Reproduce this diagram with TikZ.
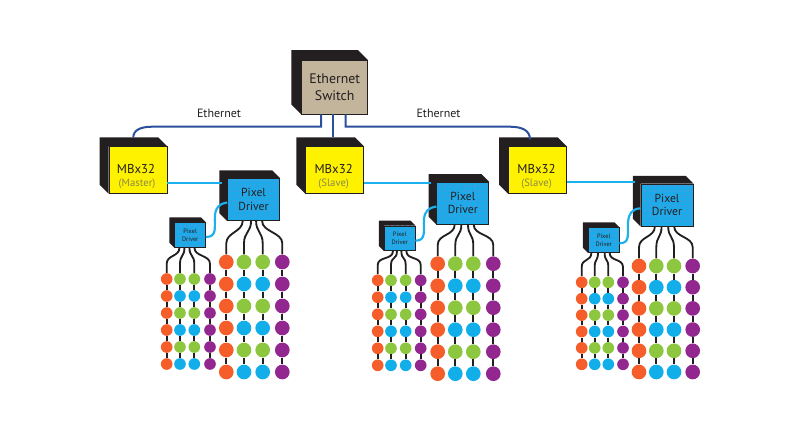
\documentclass[tikz,border=0pt]{standalone}
\usepackage{fontspec}
\setmainfont{PT Sans}
\usetikzlibrary{calc, patterns}

\definecolor{inkblack}{HTML}{231F20}
\definecolor{switchtan}{HTML}{C2B59B}
\definecolor{mbyellow}{HTML}{FFF200}
\definecolor{pdblue}{HTML}{1CAAE8}
\definecolor{pddot}{HTML}{6C8FD8}
\definecolor{cableblue}{HTML}{2A4F9C}
\definecolor{linkblue}{HTML}{1CB0EC}
\definecolor{ledorange}{HTML}{F55E2A}
\definecolor{ledgreen}{HTML}{8DC63F}
\definecolor{ledblue}{HTML}{12AEEA}
\definecolor{ledpurple}{HTML}{92278F}
\definecolor{roletext}{HTML}{8A8A4A}

\tikzset{
    frontbox/.style={draw=inkblack, line width=0.5pt, inner sep=0pt, text=inkblack, align=center},
    switchbox/.style={frontbox, fill=switchtan, minimum width=39.6pt, minimum height=32pt, font=\fontsize{8.3}{10.2}\selectfont},
    mbbox/.style={frontbox, fill=mbyellow, minimum width=34.8pt, minimum height=27.8pt},
    pdbox/.style={frontbox, preaction={fill=pdblue}, pattern=dots, pattern color=pddot, minimum width=31.2pt, minimum height=25.2pt, font=\fontsize{7}{7.9}\selectfont},
    pdsmall/.style={frontbox, preaction={fill=pdblue}, pattern=dots, pattern color=pddot, minimum width=18.4pt, minimum height=14.8pt, font=\fontsize{3.8}{4.8}\selectfont},
    mbname/.style={inner sep=0pt, text=inkblack, font=\fontsize{7.7}{10}\selectfont},
    mbrole/.style={inner sep=0pt, text=roletext, font=\fontsize{6.4}{8}\selectfont},
    cablelabel/.style={inner sep=0pt, text=inkblack, font=\fontsize{7.2}{9}\selectfont},
    ethcable/.style={draw=cableblue, line width=1.2pt},
    pdlink/.style={draw=linkblue, line width=1.3pt},
    wire/.style={draw=inkblack, line width=1.1pt},
    ledbig/.style={circle, inner sep=0pt, minimum size=8.8pt},
    ledsmall/.style={circle, inner sep=0pt, minimum size=7pt}
}

% black top and left faces behind a front box
\newcommand{\backface}[2]{
    \fill[inkblack] (#1.south west) -- ++(-#2,-#2) -- ($(#1.north west)+(-#2,-#2)$) -- ($(#1.north east)+(-#2,-#2)$) -- (#1.north east) -- (#1.north west) -- cycle;
}

% name, first row y, row distance, led style, curve height, column x/wire start
\newcommand{\ledbank}[6]{
    \foreach \cx/\sx [count=\c] in {#6} {
        \foreach \r in {1,...,6} {
            \ifnum\c=1 \def\ledcol{ledorange}\else
            \ifnum\c=4 \def\ledcol{ledpurple}\else
            \ifodd\r \def\ledcol{ledgreen}\else \def\ledcol{ledblue}\fi\fi\fi
            \pgfmathsetmacro\ly{#2+(\r-1)*#3}
            \node[#4, fill=\ledcol] (#1c\c r\r) at (\cx,\ly) {};
            \ifnum\r>1
                \pgfmathtruncatemacro\prev{\r-1}
                \draw[wire] (#1c\c r\prev) -- (#1c\c r\r);
            \fi
        }
        \draw[wire] ($(#1.south west)+(\sx,0)$) .. controls +(0,#5) and +(0,-#5) .. ($(#1c\c r1.north)+(0,-#5)$) -- (#1c\c r1);
    }
}

\begin{document}
\begin{tikzpicture}[x=0.6pt, y=-0.6pt]
    \useasboundingbox (0,0) rectangle (800,431);

    % switch
    \node[switchbox] (sw) at (334.7,87.3) {Ethernet\\Switch};
    \backface{sw}{10}

    % controllers
    \node[mbbox] (mb1) at (138,170) {};
    \node[mbbox] (mb2) at (334.7,170) {};
    \node[mbbox] (mb3) at (537.5,170) {};
    \backface{mb1}{9}
    \backface{mb2}{9}
    \backface{mb3}{9}

    \node[mbname] (mb1name) at ($(mb1)+(-2,-1.5)$) {MBx32};
    \node[mbrole] (mb1role) at ($(mb1)+(-1,14)$) {(Master)};
    \node[mbname] (mb2name) at ($(mb2)+(-1,-1.5)$) {MBx32};
    \node[mbrole] (mb2role) at ($(mb2)+(-1,14)$) {(Slave)};
    \node[mbname] (mb3name) at ($(mb3)+(-1,-1.5)$) {MBx32};
    \node[mbrole] (mb3role) at ($(mb3)+(-1,14)$) {(Slave)};

    % big and small drivers
    \node[pdbox] (pd1) at (253.5,199.5) {Pixel\\Driver};
    \node[pdbox] (pd2) at (462.8,203.2) {Pixel\\Driver};
    \node[pdbox] (pd3) at (667,205) {Pixel\\Driver};
    \backface{pd1}{7.7}
    \backface{pd2}{7.7}
    \backface{pd3}{7.7}

    \node[pdsmall] (ps1) at (190.2,235) {Pixel\\Driver};
    \node[pdsmall] (ps2) at (399.7,238.3) {Pixel\\Driver};
    \node[pdsmall] (ps3) at (603.7,240) {Pixel\\Driver};
    \backface{ps1}{5}
    \backface{ps2}{5}
    \backface{ps3}{5}

    % ethernet
    \draw[ethcable] ($(sw.south)+(-13.7,0)$) -- (321,126.7) -- (152,126.7) .. controls (140,126.7) and ($(mb1.north)+(-4.7,-16)$) .. ($(mb1.north)+(-4.7,-9)$);
    \draw[ethcable] ($(sw.south)+(-1.7,0)$) -- ($(mb2.north)+(-1.7,-9)$);
    \draw[ethcable] ($(sw.south)+(11,0)$) -- (345.7,126.7) -- (510,126.7) .. controls (522,126.7) and ($(mb3.north)+(-7.5,-16)$) .. ($(mb3.north)+(-7.5,-7)$);

    \node[cablelabel] (eth1) at (219,113) {Ethernet};
    \node[cablelabel] (eth2) at (438.5,113) {Ethernet};

    % controller to driver
    \draw[pdlink] (mb1.east |- 0,182.7) -- (222,182.7);
    \draw[pdlink] (mb2.east |- 0,182.7) -- (431,182.7);
    \draw[pdlink] (mb3.east |- 0,182.3) -- (635,182.3);

    % small driver to big driver
    \draw[pdlink] (ps1.east |- 0,237) .. controls (218,237) and (214,226) .. (215,215) .. controls (216,207) and (219,204) .. (pd1.west |- 0,202.5);
    \draw[pdlink] (ps2.east |- 0,240.7) .. controls (427,240.7) and (423,230) .. (424,219) .. controls (425,211) and (428,208) .. (pd2.west |- 0,206.5);
    \draw[pdlink] (ps3.east |- 0,243.3) .. controls (631,243.3) and (627,233) .. (628,222) .. controls (629,213) and (632,209) .. (pd3.west |- 0,208.3);

    % led strings
    \ledbank{pd1}{262}{22}{ledbig}{11}{226.3/15.6, 244/24, 262.7/29, 282.3/35}
    \ledbank{pd2}{263.7}{22}{ledbig}{11}{437.7/18.3, 455.3/25, 473.3/31.6, 493.3/37.3}
    \ledbank{pd3}{266}{21.2}{ledbig}{11}{639/14.3, 656.3/21, 674/27.6, 692.7/33.6}
    \ledbank{ps1}{279}{17}{ledsmall}{9}{166.7/5, 180/10, 194.3/15, 210/20}
    \ledbank{ps2}{280.3}{17}{ledsmall}{9}{377.7/9, 391/13, 405.7/17.4, 420.7/22.4}
    \ledbank{ps3}{282.3}{16.4}{ledsmall}{9}{581.7/3.4, 594.7/10, 608.3/16.7, 623/21.7}
\end{tikzpicture}
\end{document}
